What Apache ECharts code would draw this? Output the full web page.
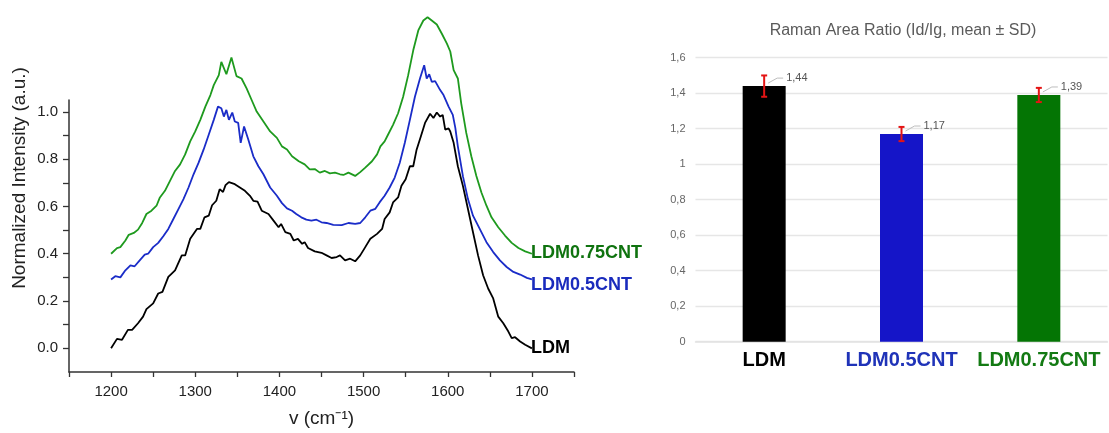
<!DOCTYPE html>
<html>
<head>
<meta charset="utf-8">
<script src="https://cdn.jsdelivr.net/npm/echarts@6/dist/echarts.min.js"></script>
<style>
html,body{margin:0;padding:0;background:#fff;}
#chart{width:1109px;height:433px;}
</style>
</head>
<body>
<div id="chart"></div>
<script>
// ---------- Left: Raman spectra ----------
const ldmX = [1200,1207,1213,1220,1225,1232,1238,1242,1250,1256,1261,1268,1276,1284,1288,1294,1302,1306,1311,1316,1320,1325,1329,1333,1336,1340,1347,1353,1359,1365,1369,1374,1379,1387,1393,1399,1402,1407,1413,1417,1422,1427,1430,1434,1442,1450,1456,1462,1468,1472,1478,1484,1490,1496,1502,1508,1516,1522,1525,1531,1535,1541,1545,1550,1555,1559,1563,1568,1573,1579,1583,1587,1591,1594,1597,1601,1603,1607,1612,1618,1624,1630,1636,1642,1648,1654,1660,1666,1672,1676,1680,1686,1692,1700];
const ldmY = [0.000,0.040,0.036,0.078,0.078,0.106,0.134,0.166,0.190,0.232,0.239,0.302,0.330,0.393,0.393,0.463,0.505,0.505,0.554,0.561,0.605,0.624,0.673,0.661,0.690,0.703,0.694,0.680,0.666,0.645,0.624,0.620,0.582,0.568,0.540,0.512,0.526,0.491,0.484,0.456,0.463,0.442,0.449,0.424,0.410,0.404,0.393,0.382,0.386,0.393,0.372,0.379,0.368,0.393,0.428,0.463,0.484,0.505,0.547,0.575,0.617,0.638,0.687,0.715,0.770,0.770,0.840,0.896,0.953,0.992,0.974,0.997,0.980,0.987,0.925,0.930,0.917,0.869,0.770,0.687,0.589,0.491,0.393,0.309,0.253,0.211,0.134,0.106,0.071,0.043,0.047,0.029,0.015,0.000];

const cnt05X = [1200,1205,1211,1217,1223,1228,1234,1240,1244,1250,1256,1262,1268,1274,1280,1286,1292,1298,1304,1310,1316,1322,1327,1331,1334,1337,1340,1344,1347,1351,1354,1358,1363,1369,1375,1381,1389,1397,1403,1409,1415,1420,1426,1432,1438,1444,1450,1456,1464,1474,1482,1490,1496,1502,1508,1514,1519,1525,1531,1537,1543,1549,1555,1561,1567,1572,1575,1578,1581,1585,1591,1595,1601,1606,1609,1612,1618,1624,1630,1638,1646,1654,1662,1670,1678,1686,1694,1700];
const cnt05Y = [0.291,0.305,0.300,0.330,0.351,0.347,0.372,0.396,0.400,0.428,0.446,0.474,0.505,0.547,0.589,0.631,0.680,0.736,0.785,0.841,0.903,0.966,1.022,1.015,0.980,1.008,0.966,0.997,0.959,0.953,0.869,0.938,0.883,0.812,0.770,0.736,0.680,0.645,0.614,0.592,0.582,0.568,0.554,0.544,0.540,0.544,0.533,0.530,0.522,0.521,0.530,0.526,0.530,0.554,0.582,0.590,0.617,0.645,0.680,0.722,0.785,0.869,0.966,1.064,1.141,1.197,1.141,1.159,1.127,1.130,1.092,1.071,1.022,0.987,0.932,0.854,0.728,0.631,0.561,0.505,0.449,0.407,0.372,0.344,0.323,0.312,0.298,0.292];

const cnt075X = [1200,1207,1211,1217,1221,1227,1232,1237,1242,1248,1254,1258,1264,1270,1276,1282,1288,1294,1300,1306,1312,1318,1322,1328,1331,1337,1343,1349,1355,1361,1367,1373,1381,1389,1397,1403,1409,1415,1423,1430,1436,1442,1448,1454,1460,1466,1472,1476,1482,1490,1496,1502,1510,1516,1520,1525,1529,1535,1541,1547,1553,1559,1565,1571,1576,1581,1587,1593,1599,1603,1607,1612,1616,1622,1628,1634,1640,1646,1652,1660,1668,1676,1684,1692,1700];
const cnt075Y = [0.400,0.424,0.428,0.456,0.480,0.488,0.502,0.530,0.568,0.582,0.603,0.638,0.666,0.708,0.750,0.778,0.820,0.875,0.917,0.966,1.022,1.071,1.113,1.155,1.211,1.159,1.230,1.151,1.141,1.099,1.050,1.001,0.959,0.917,0.890,0.854,0.841,0.812,0.791,0.778,0.757,0.758,0.743,0.750,0.740,0.743,0.736,0.733,0.743,0.729,0.745,0.764,0.791,0.820,0.854,0.875,0.903,0.945,0.994,1.064,1.155,1.260,1.344,1.386,1.400,1.386,1.369,1.330,1.288,1.255,1.176,1.141,1.036,0.911,0.812,0.729,0.659,0.603,0.554,0.512,0.477,0.446,0.424,0.410,0.400];

const spectraNames = ['LDM', 'LDM0.5CNT', 'LDM0.75CNT'];
const leftYLabelValues = [0, 0.2, 0.4, 0.6, 0.8, 1.0];
const leftYTickValues = [0, 0.1, 0.2, 0.3, 0.4, 0.5, 0.6, 0.7, 0.8, 0.9, 1.0];

// ---------- Right: area ratio bars ----------
const categories = ['LDM', 'LDM0.5CNT', 'LDM0.75CNT'];
const ratioMeans = [1.44, 1.17, 1.39];
const ratioSD = [0.06, 0.04, 0.04];

const lineColors = ['#000000', '#1a2cc8', '#1e9a1e'];
const labelColors = ['#000000', '#1a2bbd', '#0f730f'];
const barColors = ['#000000', '#1515c8', '#047504'];

function zip(xs, ys) { return xs.map((x, i) => [x, ys[i]]); }
const spectra = [zip(ldmX, ldmY), zip(cnt05X, cnt05Y), zip(cnt075X, cnt075Y)];
const endOffsets = [[0, 0], [0, 6], [0, -1]];
const FONT = 'Liberation Sans, Arial, sans-serif';

const chart = echarts.init(document.getElementById('chart'));

const lineSeries = spectra.map((d, i) => ({
  type: 'line',
  name: spectraNames[i],
  xAxisIndex: 0, yAxisIndex: 0,
  data: d,
  showSymbol: false,
  symbol: 'none',
  clip: false,
  z: 3 - i,
  lineStyle: { color: lineColors[i], width: 1.8 },
  endLabel: {
    show: true,
    formatter: '{a}',
    distance: -1,
    offset: endOffsets[i],
    color: labelColors[i],
    fontSize: 18,
    fontWeight: 'bold',
    fontFamily: FONT
  }
}));

const fmtComma = v => String(+v.toFixed(2)).replace('.', ',');

chart.setOption({
  animation: false,
  backgroundColor: '#ffffff',
  textStyle: { fontFamily: FONT },
  title: {
    text: 'Raman Area Ratio (Id/Ig, mean ± SD)',
    left: 898, top: 18,
    textAlign: 'center',
    textStyle: { fontSize: 16, fontWeight: 'normal', color: '#5a5a5a', fontFamily: FONT }
  },
  graphic: [{
    type: 'text',
    x: 20, y: 178,
    rotation: Math.PI / 2,
    style: {
      text: 'Normalized Intensity (a.u.)',
      fontSize: 19, fontFamily: FONT, fill: '#222',
      align: 'center', verticalAlign: 'middle'
    }
  }],
  grid: [
    { left: 69, right: 535, top: 100, bottom: 59, containLabel: false },
    { left: 695.5, right: 1.5, top: 57.7, bottom: 91.3, containLabel: false }
  ],
  xAxis: [
    {
      type: 'value', gridIndex: 0,
      min: 1150, max: 1750, interval: 50,
      axisLine: { show: true, onZero: false, lineStyle: { color: '#333', width: 1.5 } },
      axisTick: { show: true, length: 5, lineStyle: { color: '#333', width: 1.3 } },
      axisLabel: { formatter: v => (v % 100 === 0 ? String(v) : ''), fontSize: 15, color: '#222', margin: 12, fontFamily: FONT },
      splitLine: { show: false },
      name: 'v (cm⁻¹)', nameLocation: 'middle', nameGap: 37,
      nameTextStyle: { fontSize: 19, color: '#222', fontFamily: FONT }
    },
    {
      type: 'category', gridIndex: 1,
      data: categories,
      axisLine: { show: true, lineStyle: { color: '#e2e2e2', width: 1.5 } },
      axisTick: { show: false },
      axisLabel: {
        interval: 0, margin: 9,
        formatter: (v, i) => '{c' + i + '|' + v + '}',
        rich: {
          c0: { color: labelColors[0], fontSize: 20, fontWeight: 'bold', fontFamily: FONT },
          c1: { color: '#1f33b8', fontSize: 20, fontWeight: 'bold', fontFamily: FONT },
          c2: { color: '#137a13', fontSize: 20, fontWeight: 'bold', fontFamily: FONT }
        }
      }
    }
  ],
  yAxis: [
    {
      type: 'value', gridIndex: 0,
      min: -0.1, max: 1.05,
      axisLine: { show: true, lineStyle: { color: '#333', width: 1.5 } },
      axisTick: { show: true, length: 6, customValues: leftYTickValues, lineStyle: { color: '#333', width: 1.3 } },
      axisLabel: { customValues: leftYLabelValues, formatter: v => v.toFixed(1), fontSize: 15, color: '#222', margin: 11, fontFamily: FONT },
      splitLine: { show: false }
    },
    {
      type: 'value', gridIndex: 1,
      min: 0, max: 1.6, interval: 0.2,
      axisLine: { show: false },
      axisTick: { show: false },
      axisLabel: { formatter: v => fmtComma(v), fontSize: 11, color: '#666', margin: 10, fontFamily: FONT },
      splitLine: { show: true, lineStyle: { color: '#e6e6e6', width: 1.3 } }
    }
  ],
  series: lineSeries.concat([
    {
      type: 'bar',
      xAxisIndex: 1, yAxisIndex: 1,
      barWidth: 43,
      data: ratioMeans.map((v, i) => ({ value: v, itemStyle: { color: barColors[i] } }))
    },
    {
      type: 'custom',
      xAxisIndex: 1, yAxisIndex: 1,
      z: 10,
      data: ratioMeans.map((v, i) => [i, v, ratioSD[i]]),
      encode: { x: 0, y: 1 },
      renderItem: function (params, api) {
        const i = api.value(0), m = api.value(1), sd = api.value(2);
        const p = api.coord([i, m]);
        const t = api.coord([i, m + sd]);
        const b = api.coord([i, m - sd]);
        const red = { stroke: '#e41414', lineWidth: 2 };
        const half = 3;
        return {
          type: 'group',
          children: [
            { type: 'line', shape: { x1: p[0] + 4, y1: p[1] - 3, x2: p[0] + 13, y2: p[1] - 8 }, style: { stroke: '#bdbdbd', lineWidth: 1 } },
            { type: 'line', shape: { x1: p[0] + 13, y1: p[1] - 8, x2: p[0] + 19, y2: p[1] - 8 }, style: { stroke: '#bdbdbd', lineWidth: 1 } },
            { type: 'line', shape: { x1: t[0], y1: t[1], x2: b[0], y2: b[1] }, style: red },
            { type: 'line', shape: { x1: t[0] - half, y1: t[1], x2: t[0] + half, y2: t[1] }, style: red },
            { type: 'line', shape: { x1: b[0] - half, y1: b[1], x2: b[0] + half, y2: b[1] }, style: red },
            { type: 'text', x: p[0] + 22, y: p[1] - 8, style: { text: fmtComma(m), fontSize: 11, fill: '#555', fontFamily: FONT, align: 'left', verticalAlign: 'middle' } }
          ]
        };
      }
    }
  ])
});
</script>
</body>
</html>
